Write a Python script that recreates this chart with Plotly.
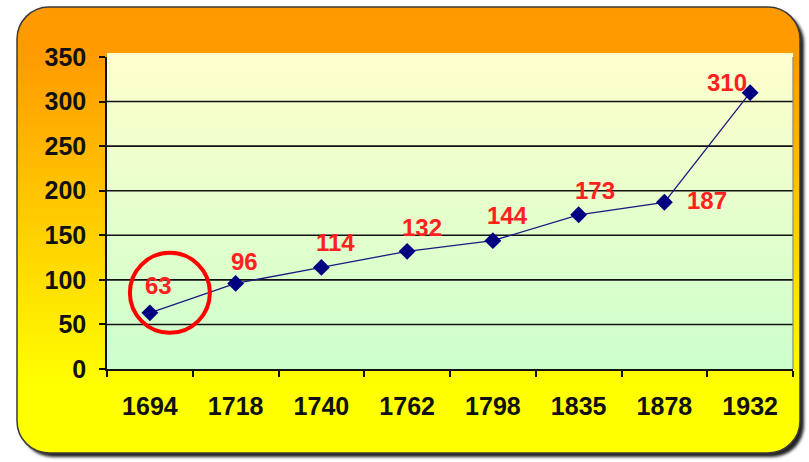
import base64
import plotly.graph_objects as go

# ---- data ----
years = ["1694", "1718", "1740", "1762", "1798", "1835", "1878", "1932"]
values = [63, 96, 114, 132, 144, 173, 187, 310]
y_ticks = [0, 50, 100, 150, 200, 250, 300, 350]
grid_vals = [50, 100, 150, 200, 250, 300]

# label offsets in pixels (style): (xshift, yshift)
label_offsets = [(9, 27), (9, 22), (14, 25), (15, 24), (15, 25), (16, 24), (43, 2), (-23, 10)]

W, H = 809, 462
L, R, T, B = 107, 16, 57, 93


def svg_uri(svg):
    return "data:image/svg+xml;base64," + base64.b64encode(svg.encode()).decode()


outer_svg = f'''<svg xmlns="http://www.w3.org/2000/svg" width="{W}" height="{H}" viewBox="0 0 {W} {H}" preserveAspectRatio="none">
<defs>
<linearGradient id="g" x1="0" y1="0" x2="0" y2="1">
<stop offset="0" stop-color="#FF9900"/>
<stop offset="0.12" stop-color="#FF9C00"/>
<stop offset="0.85" stop-color="#FFFF00"/>
<stop offset="1" stop-color="#FFFF00"/>
</linearGradient>
<filter id="b" x="-5%" y="-5%" width="110%" height="110%"><feGaussianBlur stdDeviation="1.5"/></filter>
</defs>
<rect x="0" y="0" width="{W}" height="{H}" fill="#ffffff"/>
<rect x="21" y="11" width="783" height="446" rx="32" ry="32" fill="#222222" filter="url(#b)"/>
<rect x="17" y="7" width="783" height="446" rx="32" ry="32" fill="url(#g)" stroke="#3a3a3a" stroke-width="1.5"/>
</svg>'''

plot_svg = '''<svg xmlns="http://www.w3.org/2000/svg" width="100" height="100" viewBox="0 0 100 100" preserveAspectRatio="none">
<defs>
<linearGradient id="p" x1="0" y1="0" x2="0" y2="1">
<stop offset="0" stop-color="#FFFFCC"/>
<stop offset="1" stop-color="#CCFFCC"/>
</linearGradient>
</defs>
<rect x="0" y="0" width="100" height="100" fill="url(#p)"/>
</svg>'''

pw = W - L - R
ph = H - T - B

fig = go.Figure()
fig.add_trace(go.Scatter(
    x=years, y=values, mode="lines+markers",
    line=dict(color="#1a1a80", width=1.3),
    marker=dict(symbol="diamond", size=13, color="#000080"),
    hoverinfo="skip", showlegend=False,
))

annotations = []
for i, (v, (dx, dy)) in enumerate(zip(values, label_offsets)):
    annotations.append(dict(
        x=i, y=v, xref="x", yref="y", text=str(v), showarrow=False,
        xshift=dx, yshift=dy,
        font=dict(family="Liberation Sans, Arial", size=24, color="#FF2020", weight="bold"),
    ))

shapes = []
for g in grid_vals:
    shapes.append(dict(type="line", xref="paper", x0=0, x1=1, yref="y", y0=g, y1=g,
                       line=dict(color="#111111", width=1.6), layer="below"))
# right border of plot area
shapes.append(dict(type="line", xref="paper", x0=1, x1=1, yref="paper", y0=0, y1=1,
                   line=dict(color="#888888", width=1.2), layer="below"))
# red circle highlighting the first point
shapes.append(dict(type="circle", xref="x", yref="y", xsizemode="pixel", ysizemode="pixel",
                   xanchor=0, yanchor=values[0], x0=-20, x1=60, y0=-20, y1=60,
                   line=dict(color="#FF0000", width=4)))

images = [
    dict(source=svg_uri(outer_svg), xref="paper", yref="paper",
         x=-L / pw, y=1 + T / ph, sizex=W / pw, sizey=H / ph,
         sizing="stretch", xanchor="left", yanchor="top", layer="below"),
    dict(source=svg_uri(plot_svg), xref="paper", yref="paper",
         x=0, y=1 + 4 / ph, sizex=1, sizey=1 + 4 / ph,
         sizing="stretch", xanchor="left", yanchor="top", layer="below"),
]

tick_font = dict(family="Liberation Sans, Arial", size=25, color="#111111", weight="bold")

fig.update_layout(
    width=W, height=H,
    margin=dict(l=L, r=R, t=T, b=B, pad=0),
    paper_bgcolor="rgba(0,0,0,0)",
    plot_bgcolor="rgba(0,0,0,0)",
    images=images, shapes=shapes, annotations=annotations,
    xaxis=dict(type="category", range=[-0.5, len(years) - 0.5], tickson="boundaries",
               ticks="outside", ticklen=6, tickangle=0,
               tickwidth=1.5, tickcolor="#111111", showline=True, linecolor="#111111",
               linewidth=1.5, showgrid=False, tickfont=tick_font, ticklabelstandoff=14,
               zeroline=False, fixedrange=True),
    yaxis=dict(range=[0, 350], tickvals=y_ticks, ticks="outside", ticklen=6,
               tickwidth=1.5, tickcolor="#111111", showline=True, linecolor="#111111",
               linewidth=1.5, showgrid=False, zeroline=False, tickfont=tick_font,
               ticklabelstandoff=8, fixedrange=True),
)

fig.write_html(
    "out.html",
    config={"displayModeBar": False},
    post_script="document.body.style.margin='0';document.body.style.overflow='hidden';",
)
